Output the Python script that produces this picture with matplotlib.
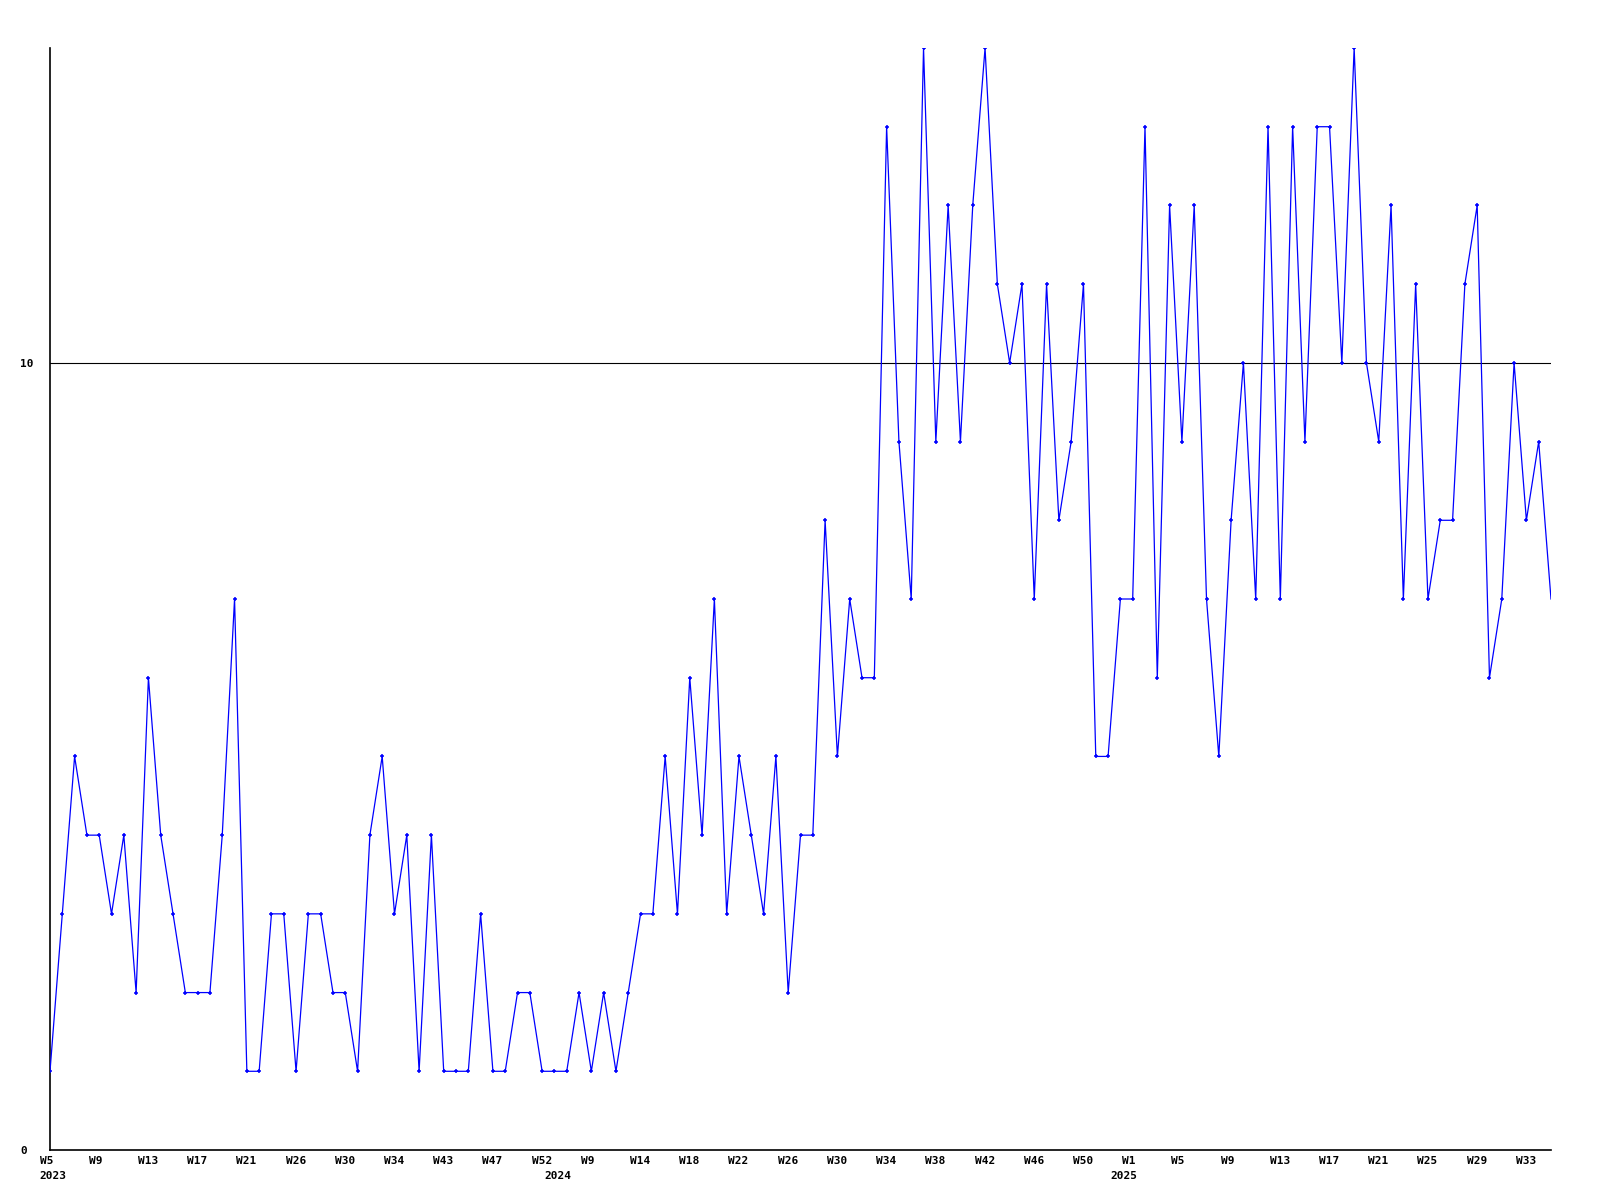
import matplotlib
matplotlib.use("Agg")
import matplotlib.pyplot as plt
import matplotlib.transforms as mtransforms

# ---- data ----
values = [1, 3, 5, 4, 4, 3, 4, 2, 6, 4,
          3, 2, 2, 2, 4, 7, 1, 1, 3, 3,
          1, 3, 3, 2, 2, 1, 4, 5, 3, 4,
          1, 4, 1, 1, 1, 3, 1, 1, 2, 2,
          1, 1, 1, 2, 1, 2, 1, 2, 3, 3,
          5, 3, 6, 4, 7, 3, 5, 4, 3, 5,
          2, 4, 4, 8, 5, 7, 6, 6, 13, 9,
          7, 14, 9, 12, 9, 12, 14, 11, 10, 11,
          7, 11, 8, 9, 11, 5, 5, 7, 7, 13,
          6, 12, 9, 12, 7, 5, 8, 10, 7, 13,
          7, 13, 9, 13, 13, 10, 14, 10, 9, 12,
          7, 11, 7, 8, 8, 11, 12, 6, 7, 10,
          8, 9, 7]

week_labels = ["W5", "W9", "W13", "W17", "W21", "W26", "W30", "W34",
               "W43", "W47", "W52", "W9", "W14", "W18", "W22", "W26",
               "W30", "W34", "W38", "W42", "W46", "W50", "W1",
               "W5", "W9", "W13", "W17", "W21", "W25", "W29", "W33"]
week_label_step = 4

year_labels = ["2023", "2024", "2025"]
year_positions = [0, 41, 87]

y_ticks = [0, 10]
y_tick_labels = ["0", "10"]
reference_value = 10

# ---- figure ----
W, H, DPI = 1600, 1200, 100
fig = plt.figure(figsize=(W / DPI, H / DPI), dpi=DPI, facecolor="white")
left_px, right_px, top_px, bottom_px = 50, 1551, 48, 1150
ax = fig.add_axes([left_px / W, (H - bottom_px) / H,
                   (right_px - left_px) / W, (bottom_px - top_px) / H])
ax.set_facecolor("white")

x = list(range(len(values)))
ax.axhline(reference_value, color="black", lw=0.8, zorder=1)
ax.plot(x, values, color="#0000FF", lw=0.9, marker="+", markersize=3,
        markeredgewidth=1.1, markevery=slice(0, len(values) - 1), zorder=3)

ax.set_xlim(0, len(values) - 1)
ax.set_ylim(0, 14)

for side in ("top", "right"):
    ax.spines[side].set_visible(False)
for side in ("left", "bottom"):
    ax.spines[side].set_color("black")
    ax.spines[side].set_linewidth(1.2)

font = dict(family="DejaVu Sans Mono", weight="bold", size=8)

# y ticks
ax.set_yticks(y_ticks)
ax.set_yticklabels(y_tick_labels, **font)
ax.tick_params(axis="y", length=0, pad=21.6)
for lbl in ax.get_yticklabels():
    lbl.set_horizontalalignment("left")

# x ticks: week labels (major), year labels (minor)
ax.xaxis.remove_overlapping_locs = False
ax.set_xticks([i * week_label_step for i in range(len(week_labels))])
ax.set_xticklabels(week_labels, **font)
ax.set_xticks(year_positions, minor=True)
ax.set_xticklabels(year_labels, minor=True, **font)
ax.tick_params(axis="x", which="major", length=0, pad=4)
ax.tick_params(axis="x", which="minor", length=0, pad=15)

offset = mtransforms.ScaledTranslation(-10.5 / DPI, 0, fig.dpi_scale_trans)
for lbl in ax.xaxis.get_majorticklabels() + ax.xaxis.get_minorticklabels():
    lbl.set_horizontalalignment("left")
    lbl.set_transform(lbl.get_transform() + offset)

fig.savefig("out.png", dpi=DPI, facecolor="white")
